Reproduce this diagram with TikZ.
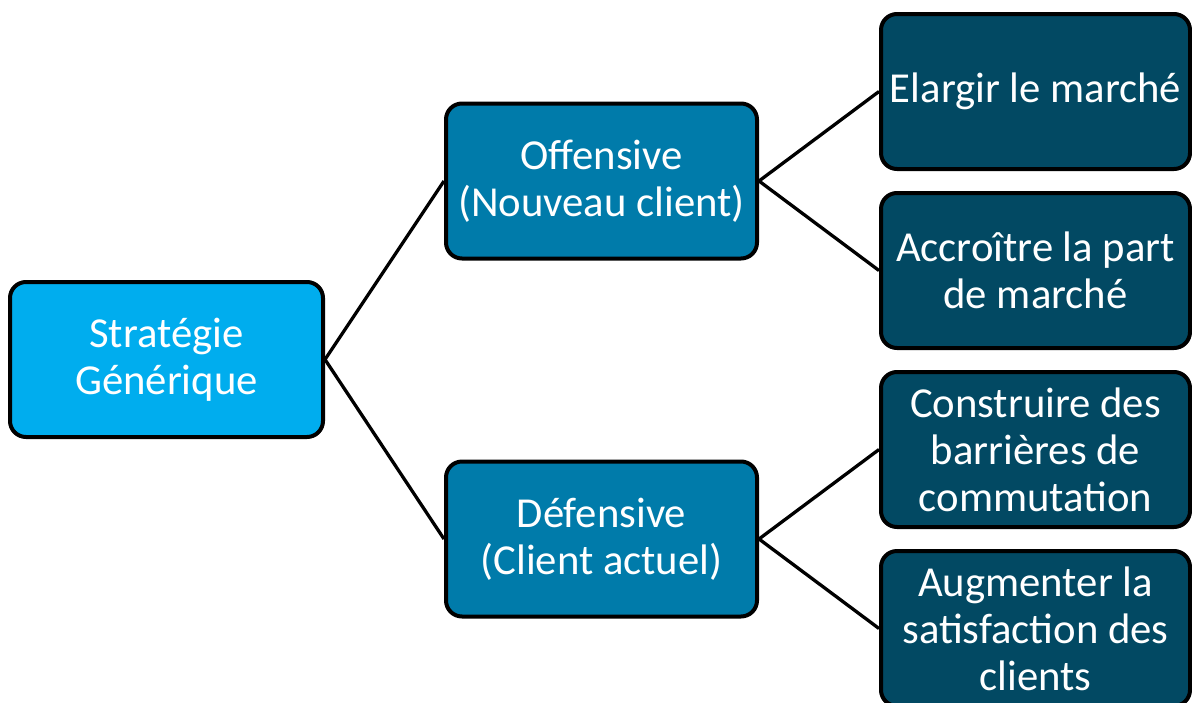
\documentclass[tikz,border=0pt]{standalone}
\usepackage{fontspec}
\setmainfont{Carlito}
\definecolor{rootblue}{RGB}{0,173,238}
\definecolor{midblue}{RGB}{0,123,170}
\definecolor{leafblue}{RGB}{2,73,99}
\begin{document}
\begin{tikzpicture}[x=1pt,y=-1pt,
  box/.style={draw=black, line width=4pt, rounded corners=16pt, text=white,
    minimum width=311pt, minimum height=155pt, inner sep=0pt, align=center,
    font=\fontsize{42.7}{47}\selectfont},
  rootbox/.style={box, fill=rootblue, minimum width=313pt},
  midbox/.style={box, fill=midblue},
  leafbox/.style={box, fill=leafblue, minimum width=309pt},
  link/.style={draw=black, line width=3.3pt}]
\useasboundingbox (0,0) rectangle (1192,702);
\fill[white] (0,0) rectangle (1192,702);

\node[rootbox] (root) at (166.5,359.5) {Stratégie\\Générique};
\node[midbox] (off) at (601.5,181) {Offensive\\(Nouveau client)};
\node[midbox] (def) at (601.5,539) {Défensive\\(Client actuel)};
\node[leafbox] (l1) at (1035.5,91.5) {Elargir le marché};
\node[leafbox] (l2) at (1035.5,270.5) {Accroître la part\\de marché};
\node[leafbox] (l3) at (1035.5,449.5) {Construire des\\barrières de\\commutation};
\node[leafbox] (l4) at (1035.5,628.5) {Augmenter la\\satisfaction des\\clients};

\draw[link] (root.east) -- (off.west);
\draw[link] (root.east) -- (def.west);
\draw[link] (off.east) -- (l1.west);
\draw[link] (off.east) -- (l2.west);
\draw[link] (def.east) -- (l3.west);
\draw[link] (def.east) -- (l4.west);
\end{tikzpicture}
\end{document}
